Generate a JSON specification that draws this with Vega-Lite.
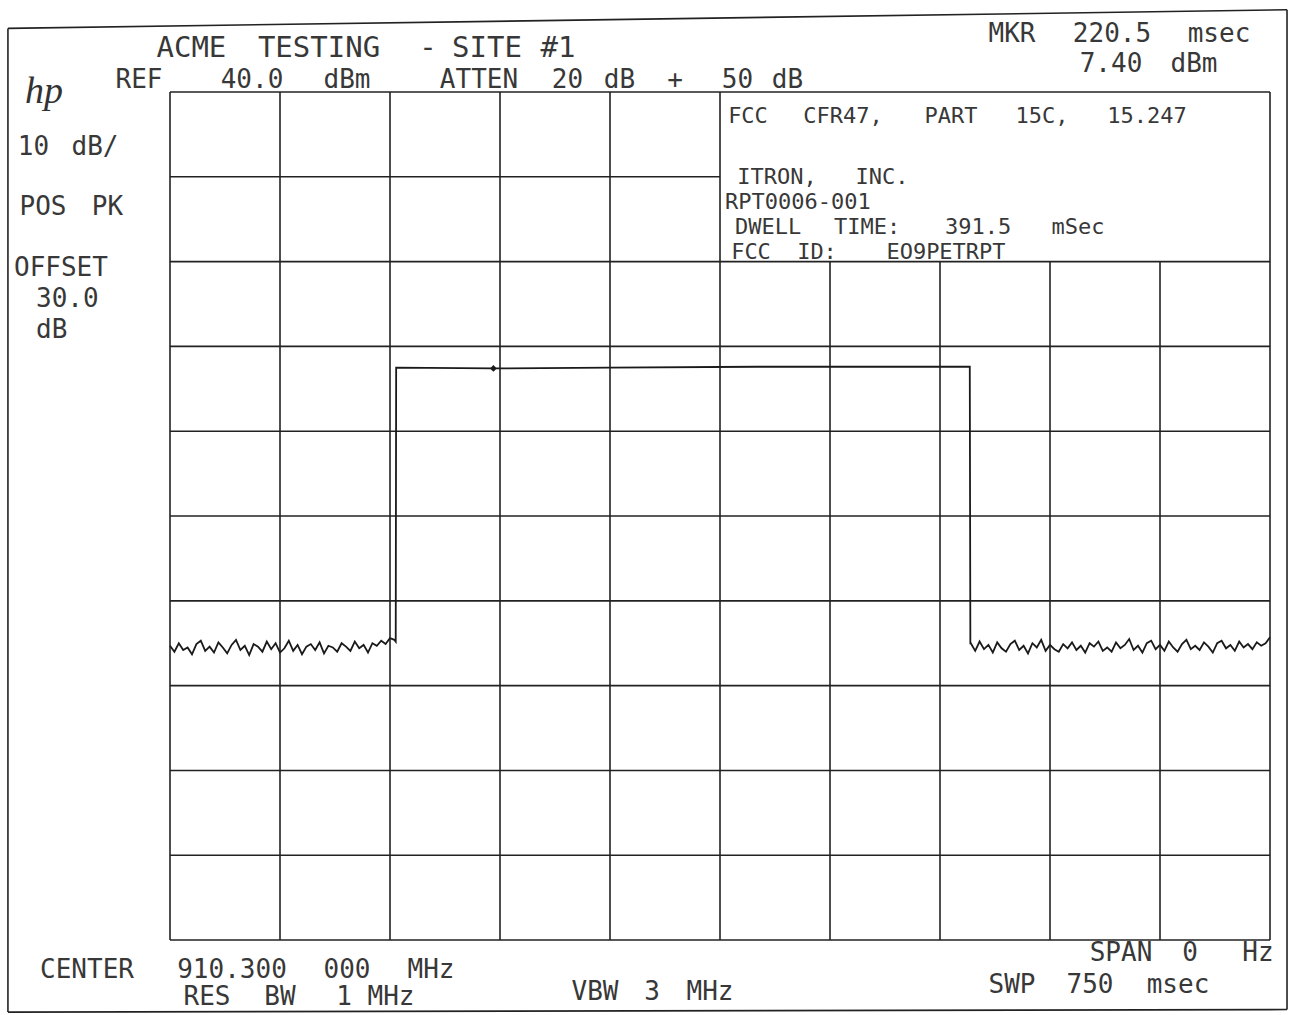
{
  "$schema": "https://vega.github.io/schema/vega-lite/v6.json",
  "width": 1299,
  "height": 1015,
  "autosize": {"type": "fit", "contains": "padding"},
  "padding": 0,
  "background": "white",
  "config": {"view": {"stroke": null}},
  "datasets": {
    "lines": [
      {"t": 0, "v": -60, "t2": 0, "v2": 40},
      {"t": 75, "v": -60, "t2": 75, "v2": 40},
      {"t": 150, "v": -60, "t2": 150, "v2": 40},
      {"t": 225, "v": -60, "t2": 225, "v2": 40},
      {"t": 300, "v": -60, "t2": 300, "v2": 40},
      {"t": 375, "v": -60, "t2": 375, "v2": 40},
      {"t": 450, "v": -60, "t2": 450, "v2": 20},
      {"t": 525, "v": -60, "t2": 525, "v2": 20},
      {"t": 600, "v": -60, "t2": 600, "v2": 20},
      {"t": 675, "v": -60, "t2": 675, "v2": 20},
      {"t": 750, "v": -60, "t2": 750, "v2": 40},
      {"t": 0, "v": 40, "t2": 750, "v2": 40},
      {"t": 0, "v": 30, "t2": 375, "v2": 30},
      {"t": 0, "v": 20, "t2": 750, "v2": 20},
      {"t": 0, "v": 10, "t2": 750, "v2": 10},
      {"t": 0, "v": 0, "t2": 750, "v2": 0},
      {"t": 0, "v": -10, "t2": 750, "v2": -10},
      {"t": 0, "v": -20, "t2": 750, "v2": -20},
      {"t": 0, "v": -30, "t2": 750, "v2": -30},
      {"t": 0, "v": -40, "t2": 750, "v2": -40},
      {"t": 0, "v": -50, "t2": 750, "v2": -50},
      {"t": 0, "v": -60, "t2": 750, "v2": -60},
      {"t": -110.5, "v": 47.5, "t2": 761.6, "v2": 49.7},
      {"t": -110.5, "v": 47.5, "t2": -110.5, "v2": -68.5},
      {"t": -110.5, "v": -68.5, "t2": 761.6, "v2": -68.2},
      {"t": 761.6, "v": 49.7, "t2": 761.6, "v2": -68.2}
    ],
    "trace": [
      {"t": 0, "v": -25.3}, {"t": 3, "v": -26.0}, {"t": 6, "v": -25.0}, {"t": 9, "v": -25.8},
      {"t": 12, "v": -25.5}, {"t": 15, "v": -26.3}, {"t": 18, "v": -25.1}, {"t": 21, "v": -24.7},
      {"t": 24, "v": -25.9}, {"t": 27, "v": -25.4}, {"t": 30, "v": -26.1}, {"t": 33, "v": -24.9},
      {"t": 36, "v": -25.5}, {"t": 39, "v": -26.2}, {"t": 42, "v": -25.2}, {"t": 45, "v": -24.6},
      {"t": 48, "v": -25.8}, {"t": 51, "v": -25.3}, {"t": 54, "v": -26.4}, {"t": 57, "v": -25.1},
      {"t": 60, "v": -25.4}, {"t": 63, "v": -26.0}, {"t": 66, "v": -24.8}, {"t": 69, "v": -25.7},
      {"t": 72, "v": -25.0}, {"t": 75, "v": -26.1}, {"t": 78, "v": -25.6}, {"t": 81, "v": -24.7},
      {"t": 84, "v": -25.9}, {"t": 87, "v": -25.2}, {"t": 90, "v": -26.3}, {"t": 93, "v": -25.4},
      {"t": 96, "v": -25.1}, {"t": 99, "v": -25.8}, {"t": 102, "v": -24.9}, {"t": 105, "v": -26.2},
      {"t": 108, "v": -25.3}, {"t": 111, "v": -25.5}, {"t": 114, "v": -26.0}, {"t": 117, "v": -25.0},
      {"t": 120, "v": -25.4}, {"t": 123, "v": -25.9}, {"t": 126, "v": -24.8}, {"t": 129, "v": -25.6},
      {"t": 132, "v": -25.2}, {"t": 135, "v": -26.1}, {"t": 138, "v": -25.0}, {"t": 141, "v": -25.3},
      {"t": 144, "v": -24.7}, {"t": 147, "v": -25.1}, {"t": 150, "v": -24.4}, {"t": 153, "v": -24.6},
      {"t": 153.9, "v": -24.8}, {"t": 154.2, "v": 7.5}, {"t": 220.5, "v": 7.4}, {"t": 300, "v": 7.5},
      {"t": 400, "v": 7.6}, {"t": 545.3, "v": 7.6}, {"t": 545.7, "v": -25.0},
      {"t": 546, "v": -25.0}, {"t": 549, "v": -25.9}, {"t": 552, "v": -24.8}, {"t": 555, "v": -25.7},
      {"t": 558, "v": -25.2}, {"t": 561, "v": -26.1}, {"t": 564, "v": -24.9}, {"t": 567, "v": -25.6},
      {"t": 570, "v": -26.0}, {"t": 573, "v": -25.1}, {"t": 576, "v": -24.7}, {"t": 579, "v": -25.8},
      {"t": 582, "v": -25.3}, {"t": 585, "v": -26.2}, {"t": 588, "v": -25.0}, {"t": 591, "v": -25.5},
      {"t": 594, "v": -24.6}, {"t": 597, "v": -25.9}, {"t": 600, "v": -25.2}, {"t": 603, "v": -25.7},
      {"t": 606, "v": -26.0}, {"t": 609, "v": -25.1}, {"t": 612, "v": -25.6}, {"t": 615, "v": -24.9},
      {"t": 618, "v": -25.8}, {"t": 621, "v": -25.3}, {"t": 624, "v": -26.1}, {"t": 627, "v": -25.0},
      {"t": 630, "v": -25.4}, {"t": 633, "v": -24.8}, {"t": 636, "v": -25.9}, {"t": 639, "v": -25.5},
      {"t": 642, "v": -26.0}, {"t": 645, "v": -24.9}, {"t": 648, "v": -25.6}, {"t": 651, "v": -25.2},
      {"t": 654, "v": -24.5}, {"t": 657, "v": -25.8}, {"t": 660, "v": -25.3}, {"t": 663, "v": -26.1},
      {"t": 666, "v": -25.0}, {"t": 669, "v": -24.7}, {"t": 672, "v": -25.7}, {"t": 675, "v": -25.2},
      {"t": 678, "v": -25.9}, {"t": 681, "v": -24.8}, {"t": 684, "v": -25.5}, {"t": 687, "v": -26.0},
      {"t": 690, "v": -25.1}, {"t": 693, "v": -24.6}, {"t": 696, "v": -25.7}, {"t": 699, "v": -25.3},
      {"t": 702, "v": -25.8}, {"t": 705, "v": -24.9}, {"t": 708, "v": -25.4}, {"t": 711, "v": -26.1},
      {"t": 714, "v": -25.0}, {"t": 717, "v": -24.7}, {"t": 720, "v": -25.6}, {"t": 723, "v": -25.2},
      {"t": 726, "v": -25.9}, {"t": 729, "v": -24.8}, {"t": 732, "v": -25.5}, {"t": 735, "v": -25.1},
      {"t": 738, "v": -25.7}, {"t": 741, "v": -24.9}, {"t": 744, "v": -25.3}, {"t": 747, "v": -25.0},
      {"t": 750, "v": -24.3}
    ],
    "marker": [{"t": 220.5, "v": 7.4}],
    "title": [
      {"t": 14.59, "v": 44.13, "label": "ACME"},
      {"t": 101.59, "v": 44.13, "label": "TESTING"},
      {"t": 175.91, "v": 44.13, "label": "-"},
      {"t": 216.14, "v": 44.13, "label": "SITE"},
      {"t": 264.55, "v": 44.13, "label": "#1"}
    ],
    "labels": [
      {"t": -21.14, "v": 40.47, "label": "REF"},
      {"t": 55.91, "v": 40.47, "label": "40.0"},
      {"t": 120.68, "v": 40.47, "label": "dBm"},
      {"t": 210.68, "v": 40.47, "label": "ATTEN"},
      {"t": 271.02, "v": 40.47, "label": "20"},
      {"t": 306.48, "v": 40.47, "label": "dB"},
      {"t": 344.32, "v": 40.47, "label": "+"},
      {"t": 386.93, "v": 40.47, "label": "50"},
      {"t": 421.02, "v": 40.47, "label": "dB"},
      {"t": 574.09, "v": 45.9, "label": "MKR"},
      {"t": 642.27, "v": 45.9, "label": "220.5"},
      {"t": 715.23, "v": 45.9, "label": "msec"},
      {"t": 641.59, "v": 42.36, "label": "7.40"},
      {"t": 698.18, "v": 42.36, "label": "dBm"},
      {"t": -93.07, "v": 32.57, "label": "10"},
      {"t": -51.14, "v": 32.57, "label": "dB/"},
      {"t": -86.59, "v": 25.5, "label": "POS"},
      {"t": -42.61, "v": 25.5, "label": "PK"},
      {"t": -56.59, "v": -64.48, "label": "CENTER"},
      {"t": 42.27, "v": -64.48, "label": "910.300"},
      {"t": 120.68, "v": -64.48, "label": "000"},
      {"t": 177.95, "v": -64.48, "label": "MHz"},
      {"t": 25.23, "v": -67.67, "label": "RES"},
      {"t": 75.0, "v": -67.67, "label": "BW"},
      {"t": 118.64, "v": -67.67, "label": "1"},
      {"t": 150.68, "v": -67.67, "label": "MHz"},
      {"t": 289.77, "v": -67.08, "label": "VBW"},
      {"t": 328.64, "v": -67.08, "label": "3"},
      {"t": 368.18, "v": -67.08, "label": "MHz"},
      {"t": 648.41, "v": -62.48, "label": "SPAN"},
      {"t": 695.45, "v": -62.48, "label": "0"},
      {"t": 741.82, "v": -62.48, "label": "Hz"},
      {"t": 574.09, "v": -66.25, "label": "SWP"},
      {"t": 627.27, "v": -66.25, "label": "750"},
      {"t": 687.27, "v": -66.25, "label": "msec"}
    ],
    "leftlabels": [
      {"t": -106.36, "v": 18.3, "label": "OFFSET"},
      {"t": -91.36, "v": 14.65, "label": "30.0"},
      {"t": -91.36, "v": 10.99, "label": "dB"}
    ],
    "note": [
      {"t": 394.09, "v": 36.34, "label": "FCC"},
      {"t": 458.86, "v": 36.34, "label": "CFR47,"},
      {"t": 532.5, "v": 36.34, "label": "PART"},
      {"t": 594.55, "v": 36.34, "label": "15C,"},
      {"t": 666.14, "v": 36.34, "label": "15.247"},
      {"t": 413.86, "v": 29.15, "label": "ITRON,"},
      {"t": 485.45, "v": 29.15, "label": "INC."},
      {"t": 407.73, "v": 23.2, "label": "DWELL"},
      {"t": 475.23, "v": 23.2, "label": "TIME:"},
      {"t": 550.91, "v": 23.2, "label": "391.5"},
      {"t": 619.09, "v": 23.2, "label": "mSec"},
      {"t": 396.14, "v": 20.3, "label": "FCC"},
      {"t": 441.14, "v": 20.3, "label": "ID:"},
      {"t": 529.09, "v": 20.3, "label": "EO9PETRPT"}
    ],
    "noteleft": [
      {"t": 378.41, "v": 26.2, "label": "RPT0006-001"}
    ],
    "logo": [{"t": -98.9, "v": 38.7, "label": "hp"}]
  },
  "encoding": {
    "x": {"field": "t", "type": "quantitative", "axis": null, "scale": {"domain": [-115.91, 769.77], "nice": false, "zero": false}},
    "y": {"field": "v", "type": "quantitative", "axis": null, "scale": {"domain": [-68.84, 50.85], "nice": false, "zero": false}}
  },
  "layer": [
    {
      "data": {"name": "lines"},
      "mark": {"type": "rule", "color": "#222222", "strokeWidth": 1.6},
      "encoding": {
        "x2": {"field": "t2"},
        "y2": {"field": "v2"}
      }
    },
    {
      "data": {"name": "trace"},
      "mark": {"type": "line", "color": "#1a1a1a", "strokeWidth": 1.8, "interpolate": "linear"},
      "encoding": {}
    },
    {
      "data": {"name": "marker"},
      "mark": {"type": "point", "filled": true, "shape": "diamond", "size": 45, "color": "#1a1a1a", "opacity": 1},
      "encoding": {}
    },
    {
      "data": {"name": "title"},
      "mark": {"type": "text", "align": "center", "baseline": "alphabetic", "font": "DejaVu Sans Mono", "fontSize": 29, "color": "#383838"},
      "encoding": {"text": {"field": "label"}}
    },
    {
      "data": {"name": "labels"},
      "mark": {"type": "text", "align": "center", "baseline": "alphabetic", "font": "DejaVu Sans Mono", "fontSize": 26, "color": "#383838"},
      "encoding": {"text": {"field": "label"}}
    },
    {
      "data": {"name": "leftlabels"},
      "mark": {"type": "text", "align": "left", "baseline": "alphabetic", "font": "DejaVu Sans Mono", "fontSize": 26, "color": "#383838"},
      "encoding": {"text": {"field": "label"}}
    },
    {
      "data": {"name": "note"},
      "mark": {"type": "text", "align": "center", "baseline": "alphabetic", "font": "DejaVu Sans Mono", "fontSize": 22, "color": "#383838"},
      "encoding": {"text": {"field": "label"}}
    },
    {
      "data": {"name": "noteleft"},
      "mark": {"type": "text", "align": "left", "baseline": "alphabetic", "font": "DejaVu Sans Mono", "fontSize": 22, "color": "#383838"},
      "encoding": {"text": {"field": "label"}}
    },
    {
      "data": {"name": "logo"},
      "mark": {"type": "text", "align": "left", "baseline": "alphabetic", "font": "Liberation Serif", "fontStyle": "italic", "fontSize": 38, "color": "#333333"},
      "encoding": {"text": {"field": "label"}}
    }
  ]
}
